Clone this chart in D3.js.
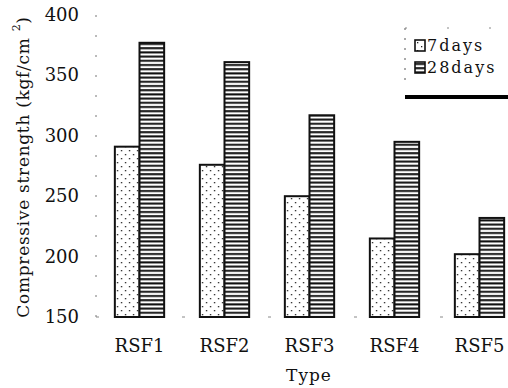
<!DOCTYPE html>
<html>
<head>
<meta charset="utf-8">
<script src="https://cdn.jsdelivr.net/npm/d3@7"></script>
<style>
  body { margin: 0; background: #fff; }
  text { font-family: "DejaVu Serif", serif; fill: #111; }
</style>
</head>
<body>
<div id="chart"></div>
<script>
var categories = ["RSF1", "RSF2", "RSF3", "RSF4", "RSF5"];
var seriesNames = ["7days", "28days"];
var days7 = [291, 276, 250, 215, 202];
var days28 = [377, 361, 317, 295, 232];
var yTicks = [150, 200, 250, 300, 350, 400];

var svgWidth = 508;
var svgHeight = 388;

var svg = d3
  .select("#chart")
  .append("svg")
  .attr("width", svgWidth)
  .attr("height", svgHeight);

// fill patterns: sparse dots for 7 days, horizontal lines for 28 days
var defs = svg.append("defs");
var dots = defs
  .append("pattern")
  .attr("id", "dots")
  .attr("patternUnits", "userSpaceOnUse")
  .attr("width", 8)
  .attr("height", 8);
dots.append("rect").attr("width", 8).attr("height", 8).attr("fill", "#fff");
dots.append("rect").attr("x", 2).attr("y", 2).attr("width", 1.3).attr("height", 1.3).attr("fill", "#222");
dots.append("rect").attr("x", 6).attr("y", 6).attr("width", 1.3).attr("height", 1.3).attr("fill", "#222");

var lines = defs
  .append("pattern")
  .attr("id", "lines")
  .attr("patternUnits", "userSpaceOnUse")
  .attr("width", 8)
  .attr("height", 4.2);
lines.append("rect").attr("width", 8).attr("height", 4.2).attr("fill", "#fff");
lines.append("rect").attr("y", 1).attr("width", 8).attr("height", 2).attr("fill", "#111");

var yScale = d3.scaleLinear().domain([150, 400]).range([317, 15]);

var xScale = d3
  .scaleBand()
  .domain(categories)
  .range([97, 522])
  .paddingInner(0.42)
  .paddingOuter(0.21);

var xSub = d3
  .scaleBand()
  .domain(seriesNames)
  .range([0, xScale.bandwidth()]);

// faint scanned axis lines
svg
  .append("line")
  .attr("x1", 96)
  .attr("x2", 96)
  .attr("y1", yScale(400))
  .attr("y2", yScale(150))
  .attr("stroke", "#777")
  .attr("stroke-width", 1)
  .attr("stroke-dasharray", "2,18");
svg
  .append("line")
  .attr("x1", 96)
  .attr("x2", 508)
  .attr("y1", yScale(150))
  .attr("y2", yScale(150))
  .attr("stroke", "#888")
  .attr("stroke-width", 1)
  .attr("stroke-dasharray", "3,40");

// y tick labels
svg
  .append("g")
  .selectAll("text")
  .data(yTicks)
  .enter()
  .append("text")
  .attr("x", 79)
  .attr("y", (d) => yScale(d) + 6)
  .attr("text-anchor", "end")
  .style("font-size", "18px")
  .text((d) => d);

// bars
var groups = svg
  .append("g")
  .selectAll("g")
  .data(categories)
  .enter()
  .append("g")
  .attr("transform", (d) => `translate(${xScale(d)},0)`);

groups
  .append("rect")
  .attr("x", xSub("7days"))
  .attr("y", (d, i) => yScale(days7[i]))
  .attr("width", xSub.bandwidth())
  .attr("height", (d, i) => yScale(150) - yScale(days7[i]))
  .attr("fill", "url(#dots)")
  .attr("stroke", "#111")
  .attr("stroke-width", 2);

groups
  .append("rect")
  .attr("x", xSub("28days"))
  .attr("y", (d, i) => yScale(days28[i]))
  .attr("width", xSub.bandwidth())
  .attr("height", (d, i) => yScale(150) - yScale(days28[i]))
  .attr("fill", "url(#lines)")
  .attr("stroke", "#111")
  .attr("stroke-width", 2);

// category labels
svg
  .append("g")
  .selectAll("text")
  .data(categories)
  .enter()
  .append("text")
  .attr("x", (d) => xScale(d) + xScale.bandwidth() / 2)
  .attr("y", 352)
  .attr("text-anchor", "middle")
  .style("font-size", "18px")
  .text((d) => d);

svg
  .append("text")
  .attr("x", 309)
  .attr("y", 381)
  .attr("text-anchor", "middle")
  .style("font-size", "17px")
  .style("letter-spacing", "1px")
  .text("Type");

// y axis title
var yTitle = svg
  .append("text")
  .attr("transform", "translate(29,167) rotate(-90)")
  .attr("text-anchor", "middle")
  .style("font-size", "17px")
  .style("letter-spacing", "0.7px");
yTitle.append("tspan").text("Compressive strength (kgf/cm  ");
yTitle.append("tspan").attr("dy", -9).style("font-size", "11px").text("2");
yTitle.append("tspan").attr("dy", 9).text(")");

// legend
var legend = svg.append("g").attr("transform", "translate(405,0)");
legend
  .append("line")
  .attr("x1", 0)
  .attr("x2", 0)
  .attr("y1", 28)
  .attr("y2", 88)
  .attr("stroke", "#555")
  .attr("stroke-dasharray", "2,8");
legend
  .append("line")
  .attr("x1", 0)
  .attr("x2", 103)
  .attr("y1", 28)
  .attr("y2", 28)
  .attr("stroke", "#888")
  .attr("stroke-dasharray", "2,40");
legend
  .append("line")
  .attr("x1", 0)
  .attr("x2", 103)
  .attr("y1", 97)
  .attr("y2", 97)
  .attr("stroke", "#000")
  .attr("stroke-width", 4);

var legendItems = legend
  .selectAll("g.item")
  .data(seriesNames)
  .enter()
  .append("g")
  .attr("class", "item")
  .attr("transform", (d, i) => `translate(10,${40 + i * 22})`);
legendItems
  .append("rect")
  .attr("width", 10)
  .attr("height", 11)
  .attr("fill", (d) => (d === "7days" ? "url(#dots)" : "url(#lines)"))
  .attr("stroke", "#111")
  .attr("stroke-width", 1.6);
legendItems
  .append("text")
  .attr("x", 12)
  .attr("y", 11)
  .style("font-size", "16px")
  .style("letter-spacing", "2px")
  .text((d) => d);
</script>
</body>
</html>
